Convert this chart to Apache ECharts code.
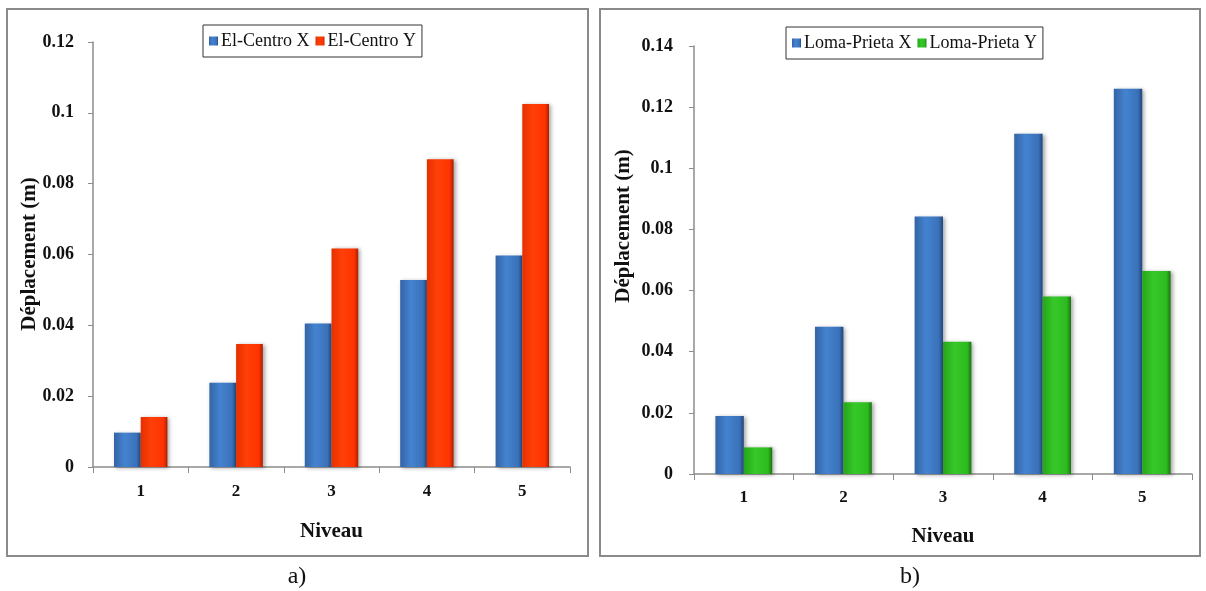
<!DOCTYPE html>
<html>
<head>
<meta charset="utf-8">
<script src="https://cdn.jsdelivr.net/npm/echarts@6/dist/echarts.min.js"></script>
<style>
html,body{margin:0;padding:0;background:#fff;}
#chart{width:1206px;height:591px;}
</style>
</head>
<body>
<div id="chart"></div>
<script>
// ---- data ----
const categories = ['1', '2', '3', '4', '5'];
const elCentroX = [0.0097, 0.0238, 0.0405, 0.0528, 0.0597];
const elCentroY = [0.0141, 0.0347, 0.0617, 0.0869, 0.1025];
const lomaPrietaX = [0.0190, 0.0482, 0.0842, 0.1113, 0.1260];
const lomaPrietaY = [0.0087, 0.0235, 0.0433, 0.0581, 0.0664];
const seriesNamesA = ['El-Centro X', 'El-Centro Y'];
const seriesNamesB = ['Loma-Prieta X', 'Loma-Prieta Y'];
const yMaxA = 0.12, yMaxB = 0.14, yStep = 0.02;
const xTitle = 'Niveau';
const yTitle = 'Déplacement (m)';

const serif = '"Liberation Serif", "DejaVu Serif", serif';

function grad(c0, c1, c2, c3) {
  return new echarts.graphic.LinearGradient(0, 0, 1, 0, [
    {offset: 0, color: c0},
    {offset: 0.4, color: c1},
    {offset: 0.85, color: c2},
    {offset: 1, color: c3}
  ]);
}
const blue = grad('#3464a6', '#4483d0', '#3a71b9', '#21467a');
const red = grad('#e63000', '#ff4008', '#ff3300', '#a82000');
const green = grad('#27a519', '#36c828', '#2dbb1f', '#1a7410');

function barStyle(fill) {
  return {
    color: fill,
    shadowBlur: 4,
    shadowColor: 'rgba(0,0,0,0.35)',
    shadowOffsetX: 2,
    shadowOffsetY: 1
  };
}

function xAxisCfg(gridIndex, gap, margin) {
  return {
    type: 'category', gridIndex: gridIndex, data: categories,
    name: xTitle, nameLocation: 'middle', nameGap: gap,
    nameTextStyle: {fontFamily: serif, fontWeight: 'bold', fontSize: 21, color: '#111'},
    axisLine: {lineStyle: {color: '#8c8c8c', width: 1.5}},
    axisTick: {show: true, length: 6, lineStyle: {color: '#8c8c8c'}},
    axisLabel: {fontFamily: serif, fontWeight: 'bold', fontSize: 17, color: '#111', margin: margin},
    splitLine: {show: false}
  };
}
function yAxisCfg(gridIndex, max, margin) {
  return {
    type: 'value', gridIndex: gridIndex, min: 0, max: max, interval: yStep,
    axisLine: {show: true, lineStyle: {color: '#8c8c8c', width: 1.5}},
    axisTick: {show: true, length: 5, lineStyle: {color: '#8c8c8c'}},
    axisLabel: {fontFamily: serif, fontWeight: 'bold', fontSize: 18, color: '#111', margin: margin},
    splitLine: {show: false}
  };
}
function legendCfg(names, left, top) {
  return {
    data: names, left: left, top: top,
    borderColor: '#333', borderWidth: 1, padding: [7, 6, 7, 6],
    itemWidth: 9, itemHeight: 9, itemGap: 6, icon: 'rect',
    textStyle: {fontFamily: serif, fontSize: 18, color: '#111', padding: [0, 0, 0, -2]}
  };
}

const chart = echarts.init(document.getElementById('chart'), null, {renderer: 'canvas'});
const option = {
  backgroundColor: '#fff',
  animation: false,
  grid: [
    {left: 93, top: 42, width: 477, height: 425},
    {left: 694, top: 46, width: 498, height: 428}
  ],
  xAxis: [xAxisCfg(0, 54, 16), xAxisCfg(1, 52, 15)],
  yAxis: [yAxisCfg(0, yMaxA, 19), yAxisCfg(1, yMaxB, 21)],
  legend: [legendCfg(seriesNamesA, 203, 25), legendCfg(seriesNamesB, 786, 27)],
  series: [
    {name: seriesNamesA[0], type: 'bar', xAxisIndex: 0, yAxisIndex: 0, data: elCentroX,
     barGap: '0%', barCategoryGap: '44%', itemStyle: barStyle(blue), color: '#3a71b9'},
    {name: seriesNamesA[1], type: 'bar', xAxisIndex: 0, yAxisIndex: 0, data: elCentroY,
     barGap: '0%', barCategoryGap: '44%', itemStyle: barStyle(red), color: '#ff3300'},
    {name: seriesNamesB[0], type: 'bar', xAxisIndex: 1, yAxisIndex: 1, data: lomaPrietaX,
     barGap: '0%', barCategoryGap: '43%', itemStyle: barStyle(blue), color: '#3a71b9'},
    {name: seriesNamesB[1], type: 'bar', xAxisIndex: 1, yAxisIndex: 1, data: lomaPrietaY,
     barGap: '0%', barCategoryGap: '43%', itemStyle: barStyle(green), color: '#2dbb1f'}
  ],
  graphic: [
    {type: 'rect', shape: {x: 7, y: 9, width: 581, height: 547}, z: -1,
     style: {fill: 'none', stroke: '#8a8a8a', lineWidth: 2}},
    {type: 'rect', shape: {x: 600, y: 9, width: 600, height: 547}, z: -1,
     style: {fill: 'none', stroke: '#8a8a8a', lineWidth: 2}},
    {type: 'text', x: 30, y: 254, rotation: Math.PI / 2,
     style: {text: yTitle, font: 'bold 21px ' + serif, fill: '#111', textAlign: 'center', textVerticalAlign: 'middle'}},
    {type: 'text', x: 624, y: 226, rotation: Math.PI / 2,
     style: {text: yTitle, font: 'bold 21px ' + serif, fill: '#111', textAlign: 'center', textVerticalAlign: 'middle'}},
    {type: 'text', x: 297, y: 577,
     style: {text: 'a)', font: '24px ' + serif, fill: '#111', textAlign: 'center', textVerticalAlign: 'middle'}},
    {type: 'text', x: 910, y: 577,
     style: {text: 'b)', font: '24px ' + serif, fill: '#111', textAlign: 'center', textVerticalAlign: 'middle'}}
  ]
};
chart.setOption(option);
</script>
</body>
</html>
